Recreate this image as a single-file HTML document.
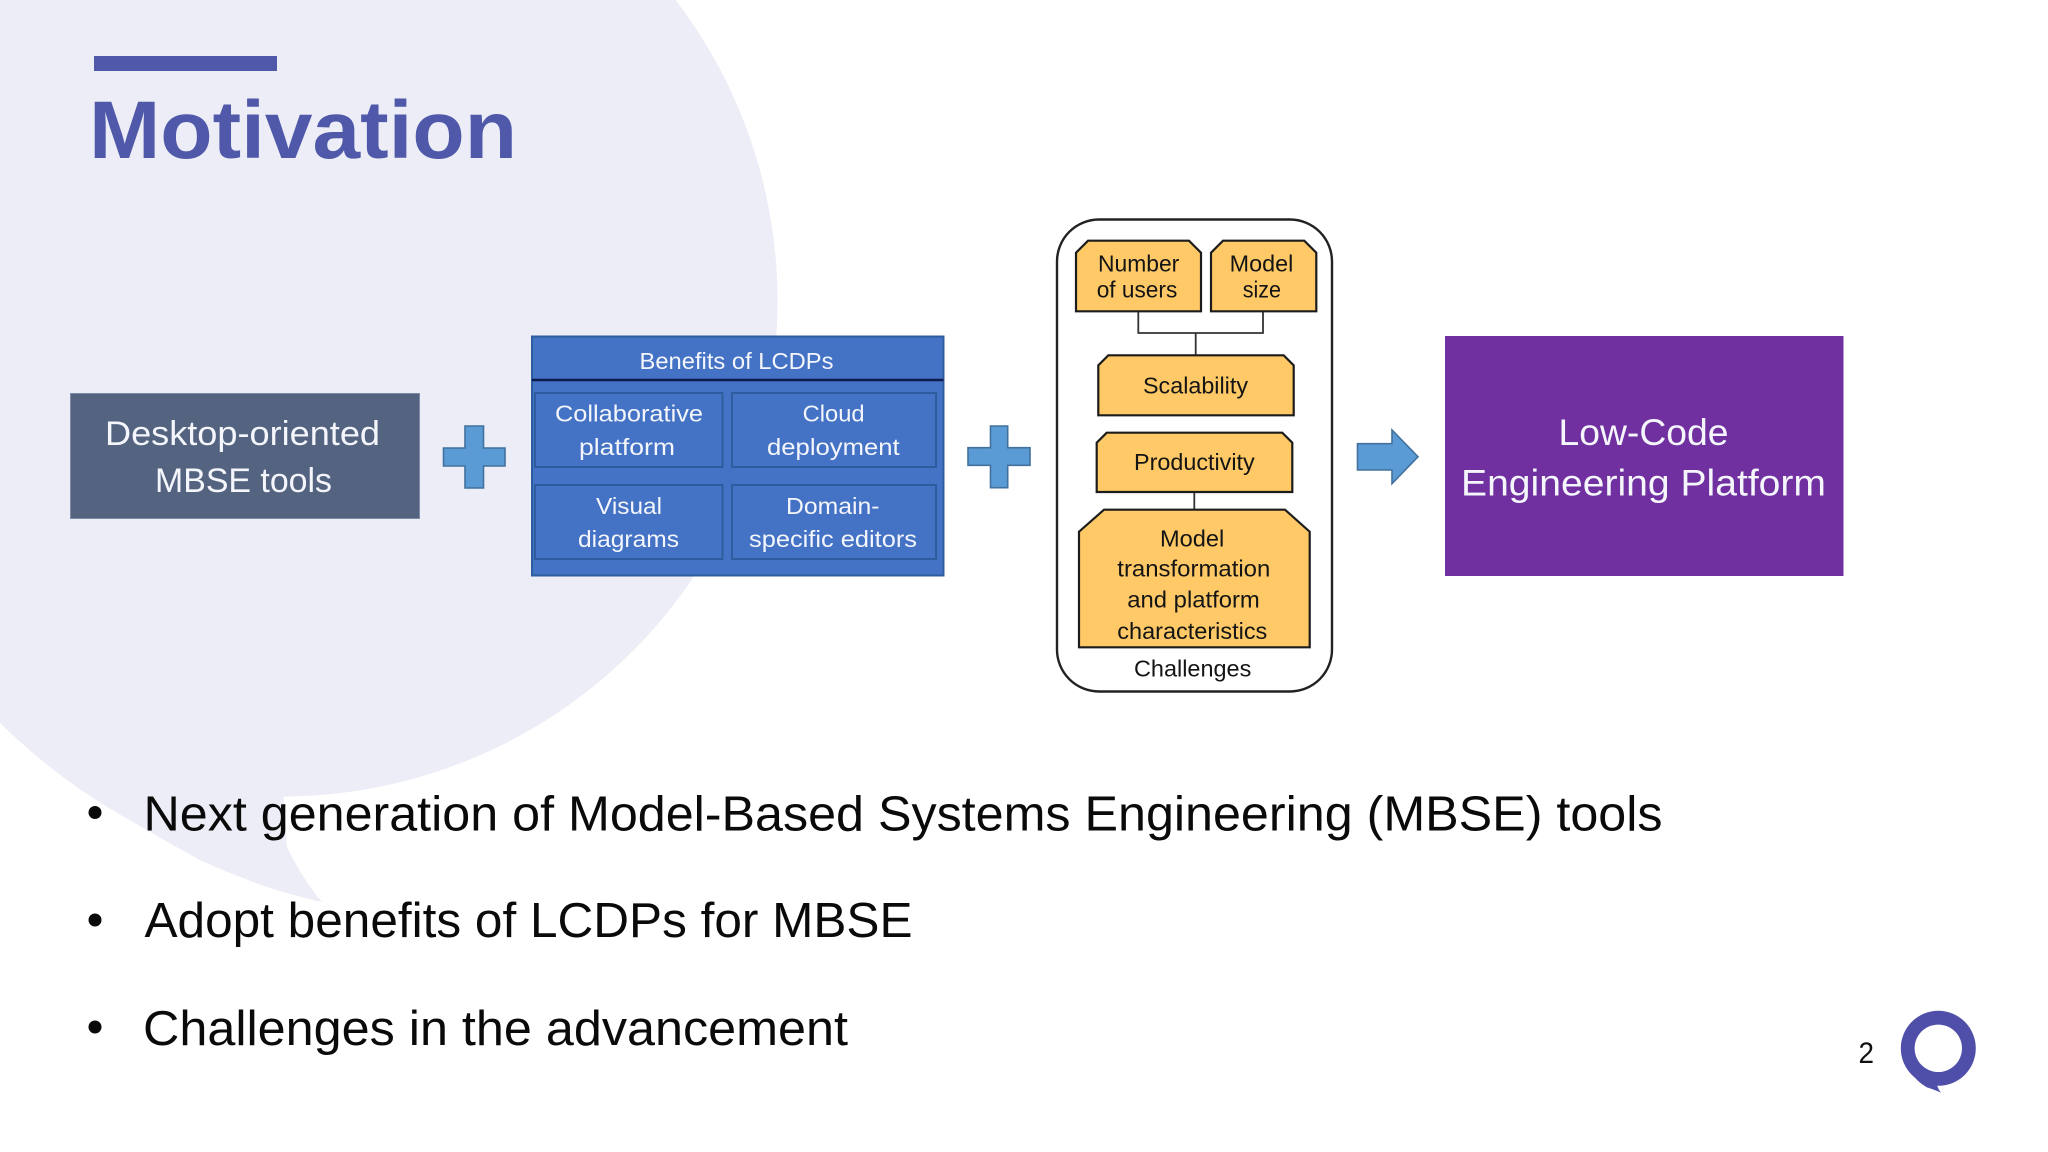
<!DOCTYPE html>
<html><head><meta charset="utf-8"><title>Motivation</title>
<style>
html,body{margin:0;padding:0;background:#fff;width:2048px;height:1152px;overflow:hidden}
svg{display:block}
text{font-family:"Liberation Sans",sans-serif}
.w{fill:#f4f6fc;font-size:23px}
.k{fill:#141414;font-size:23px}
.b{fill:#0a0a0a;font-size:49px}
.cell{fill:#4472c4;stroke:#2f5c9f;stroke-width:2}
.y{fill:#fec966;stroke:#1c1c1c;stroke-width:2.2}
.pl{fill:#5b9bd5;stroke:#41719c;stroke-width:1.6}
</style></head><body>
<svg width="2048" height="1152" viewBox="0 0 2048 1152" xmlns="http://www.w3.org/2000/svg">
<rect width="2048" height="1152" fill="#ffffff"/>
<!-- bubble background -->
<circle cx="282" cy="301" r="495.500" fill="#ecedf6"/>
<path d="M0 700 L0 723 Q33 755 67 780 Q100 804 133 822 Q167 842 200 860 Q233 875 267 887 Q295 896 322 902 Q303 880 287 847 L283 790 Z" fill="#ecedf6"/>
<!-- title -->
<rect x="94" y="56" width="183" height="15" fill="#4f58a9"/>
<text x="89" y="158" font-size="82" font-weight="700" fill="#4f58a9" textLength="428" lengthAdjust="spacingAndGlyphs">Motivation</text>
<!-- desktop box -->
<rect x="70.500" y="393.500" width="349" height="125" fill="#536380" stroke="#7f8ba6" stroke-width="1"/>
<text x="105" y="445" class="w" style="font-size:34px" textLength="275" lengthAdjust="spacingAndGlyphs">Desktop-oriented</text>
<text x="155" y="492" class="w" style="font-size:34px" textLength="177" lengthAdjust="spacingAndGlyphs">MBSE tools</text>
<!-- plus 1 -->
<path class="pl" d="M465 426H483.500V448H505V466H483.500V488H465V466H443.500V448H465Z"/>
<!-- benefits -->
<rect x="532" y="336.500" width="411.500" height="239" fill="#4472c4" stroke="#2f5c9f" stroke-width="2"/>
<line x1="532" x2="943.500" y1="380" y2="380" stroke="#0c1c4e" stroke-width="2.500"/>
<rect class="cell" x="535" y="393" width="187.500" height="74"/>
<rect class="cell" x="732" y="393" width="204" height="74"/>
<rect class="cell" x="535" y="485" width="187.500" height="74"/>
<rect class="cell" x="732" y="485" width="204" height="74"/>
<text x="639.500" y="369" class="w" textLength="194" lengthAdjust="spacingAndGlyphs">Benefits  of LCDPs</text>
<text x="555" y="421.700" class="w" textLength="148" lengthAdjust="spacingAndGlyphs">Collaborative</text>
<text x="579" y="455" class="w" textLength="96" lengthAdjust="spacingAndGlyphs">platform</text>
<text x="802.600" y="421.700" class="w" textLength="62" lengthAdjust="spacingAndGlyphs">Cloud</text>
<text x="767" y="455" class="w" textLength="132.700" lengthAdjust="spacingAndGlyphs">deployment</text>
<text x="596" y="514" class="w" textLength="66" lengthAdjust="spacingAndGlyphs">Visual</text>
<text x="578" y="547" class="w" textLength="101" lengthAdjust="spacingAndGlyphs">diagrams</text>
<text x="786" y="514" class="w" textLength="93.500" lengthAdjust="spacingAndGlyphs">Domain-</text>
<text x="749" y="547" class="w" textLength="168" lengthAdjust="spacingAndGlyphs">specific  editors</text>
<!-- plus 2 -->
<path class="pl" d="M990.500 426H1007.700V447.700H1030V465.300H1007.700V487.700H990.500V465.300H968V447.700H990.500Z"/>
<!-- challenges -->
<rect x="1057" y="219.500" width="275" height="472" rx="42" ry="42" fill="#fff" stroke="#222" stroke-width="2.400"/>
<path d="M1138.300 311V333H1263V311M1195.700 333V355.300M1194.300 492V510" fill="none" stroke="#333" stroke-width="1.800"/>
<path class="y" d="M1076 311.300V252.700L1088 240.700H1189L1201 252.700V311.300Z"/>
<path class="y" d="M1211 311.300V252.700L1223 240.700H1304.300L1316.300 252.700V311.300Z"/>
<path class="y" d="M1098.300 415.300V365.300L1108.300 355.300H1283.700L1293.700 365.300V415.300Z"/>
<path class="y" d="M1096.700 492V442.700L1106.700 432.700H1282.300L1292.300 442.700V492Z"/>
<path class="y" d="M1079 647.300V531.700L1104 509.700H1285L1309.700 531.700V647.300Z"/>
<text x="1098" y="271.300" class="k" textLength="81.300" lengthAdjust="spacingAndGlyphs">Number</text>
<text x="1096.700" y="297.300" class="k" textLength="80.600" lengthAdjust="spacingAndGlyphs">of users</text>
<text x="1229.700" y="271.300" class="k" textLength="63.600" lengthAdjust="spacingAndGlyphs">Model</text>
<text x="1242.700" y="297.300" class="k" textLength="38.300" lengthAdjust="spacingAndGlyphs">size</text>
<text x="1143" y="393.700" class="k" textLength="105" lengthAdjust="spacingAndGlyphs">Scalability</text>
<text x="1134" y="470" class="k" textLength="120.700" lengthAdjust="spacingAndGlyphs">Productivity</text>
<text x="1160" y="546.700" class="k" textLength="64.300" lengthAdjust="spacingAndGlyphs">Model</text>
<text x="1117.300" y="576.700" class="k" textLength="153" lengthAdjust="spacingAndGlyphs">transformation</text>
<text x="1127.300" y="607.300" class="k" textLength="132.500" lengthAdjust="spacingAndGlyphs">and platform</text>
<text x="1117.300" y="639" class="k" textLength="150" lengthAdjust="spacingAndGlyphs">characteristics</text>
<text x="1134" y="676.500" class="k" textLength="117.300" lengthAdjust="spacingAndGlyphs">Challenges</text>
<!-- arrow -->
<path class="pl" d="M1357.500 443.700H1392V430L1418 456.700L1392 483.700V470H1357.500Z"/>
<!-- purple -->
<rect x="1445" y="336" width="398.500" height="240" fill="#7030a0"/>
<text x="1558.500" y="445" class="w" style="font-size:37px" textLength="170" lengthAdjust="spacingAndGlyphs">Low-Code</text>
<text x="1461" y="495.700" class="w" style="font-size:37px" textLength="365" lengthAdjust="spacingAndGlyphs">Engineering Platform</text>
<!-- bullets -->
<circle cx="95" cy="812.500" r="6.500" fill="#0a0a0a"/>
<circle cx="95" cy="920" r="6.500" fill="#0a0a0a"/>
<circle cx="95" cy="1027" r="6.500" fill="#0a0a0a"/>
<text x="143.500" y="830.700" class="b" textLength="1519" lengthAdjust="spacingAndGlyphs">Next generation of Model-Based Systems Engineering (MBSE) tools</text>
<text x="144.500" y="937" class="b" textLength="768" lengthAdjust="spacingAndGlyphs">Adopt benefits of LCDPs for MBSE</text>
<text x="143" y="1045" class="b" textLength="705" lengthAdjust="spacingAndGlyphs">Challenges in the advancement</text>
<!-- page number & logo -->
<text x="1858.500" y="1063" font-size="30" fill="#111" textLength="15.500" lengthAdjust="spacingAndGlyphs">2</text>
<circle cx="1938.300" cy="1048.300" r="37.500" fill="#4f4fa9"/>
<path d="M1909 1070 Q1917 1082 1926.700 1087.300 Q1935 1090 1941 1092.700 Q1938 1089 1936.700 1084 Z" fill="#4f4fa9"/>
<circle cx="1938.300" cy="1048.300" r="23.700" fill="#fff"/>
</svg>
</body></html>
